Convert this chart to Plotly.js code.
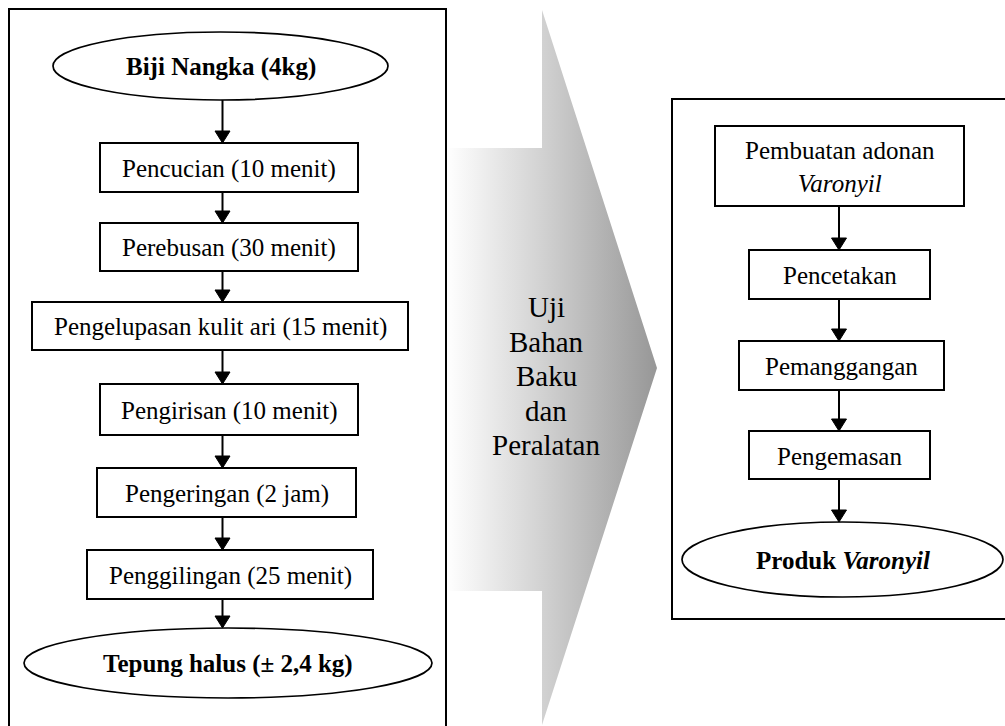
<!DOCTYPE html>
<html>
<head>
<meta charset="utf-8">
<script src="https://cdn.plot.ly/plotly-3.0.1.min.js"></script>
<style>html,body{margin:0;padding:0;background:#fff;}#chart{width:1005px;height:726px;}</style>
</head>
<body>
<div id="chart"></div>
<script>
// ---- content (text) ----
const bahanSteps = [
  "<b>Biji Nangka (4kg)</b>",
  "Pencucian (10 menit)",
  "Perebusan (30 menit)",
  "Pengelupasan kulit ari (15 menit)",
  "Pengirisan (10 menit)",
  "Pengeringan (2 jam)",
  "Penggilingan (25 menit)",
  "<b>Tepung halus (± 2,4 kg)</b>"
];
const bahanKinds = ["ellipse","box","box","box","box","box","box","ellipse"];

const produkSteps = [
  "Pembuatan adonan<br><i>Varonyil</i>",
  "Pencetakan",
  "Pemanggangan",
  "Pengemasan",
  "<b>Produk <i>Varonyil</i></b>"
];
const produkKinds = ["box","box","box","box","ellipse"];

const transitionLabel = ["Uji", "Bahan", "Baku", "dan", "Peralatan"];

// ---- layout geometry (pixels) ----
const W = 1005, H = 726;
const bahanGeom = [ // [x0, x1, y0, y1]
  [53, 388, 32, 100],
  [100, 358, 143, 192],
  [100, 358, 223, 271],
  [32, 408, 302, 350],
  [100, 358, 384, 435],
  [97, 356, 468, 517],
  [87, 373, 550, 599],
  [24, 432, 628, 698]
];
const bahanArrowX = 222.5;
const produkGeom = [
  [715, 964, 126, 206],
  [749, 930, 250, 299],
  [739, 944, 341, 390],
  [749, 930, 431, 479],
  [682, 1003, 522, 597]
];
const produkArrowX = 839;
const leftFrame = [9, 446, 9, 740];
const rightFrame = [672, 1020, 99, 619];
const bigArrow = {x0: 447, xNeck: 542, xTip: 657, yTop: 10, yBodyTop: 148, yTip: 368, yBodyBot: 591, yBot: 725};
const labelCenter = {x: 546, y: 376, lineStep: 34.5};

const FONT = "Liberation Serif, Times New Roman, Times, serif";
const shapes = [];
const annotations = [];

function frame(g) {
  shapes.push({type: "rect", layer: "below", xref: "x", yref: "y", x0: g[0], x1: g[1], y0: g[2], y1: g[3],
    line: {color: "#000", width: 2}, fillcolor: "rgba(0,0,0,0)"});
}
frame(leftFrame);
frame(rightFrame);

function column(labels, kinds, geom, ax) {
  labels.forEach((t, i) => {
    const g = geom[i];
    shapes.push({type: kinds[i] === "ellipse" ? "circle" : "rect", xref: "x", yref: "y",
      x0: g[0], x1: g[1], y0: g[2], y1: g[3],
      line: {color: "#000", width: kinds[i] === "ellipse" ? 1.7 : 2}, fillcolor: "#fff"});
    annotations.push({xref: "x", yref: "y", x: (g[0] + g[1]) / 2, y: (g[2] + g[3]) / 2 + 1,
      text: t, showarrow: false, xanchor: "center", yanchor: "middle",
      font: {family: FONT, size: 25, color: "#000"}});
    if (i < labels.length - 1) {
      const yb = g[3], yt = geom[i + 1][2];
      const ah = 12, aw = 7.5;
      shapes.push({type: "line", xref: "x", yref: "y", x0: ax, x1: ax, y0: yb, y1: yt - ah + 1,
        line: {color: "#000", width: 2}});
      shapes.push({type: "path", xref: "x", yref: "y",
        path: `M ${ax - aw} ${yt - ah} L ${ax + aw} ${yt - ah} L ${ax} ${yt} Z`,
        fillcolor: "#000", line: {color: "#000", width: 1}});
    }
  });
}
column(bahanSteps, bahanKinds, bahanGeom, bahanArrowX);
column(produkSteps, produkKinds, produkGeom, produkArrowX);

const a = bigArrow;
const arrowTrace = {
  type: "scatter", mode: "lines", hoverinfo: "skip",
  x: [a.x0, a.xNeck, a.xNeck, a.xTip, a.xNeck, a.xNeck, a.x0, a.x0],
  y: [a.yBodyTop, a.yBodyTop, a.yTop, a.yTip, a.yBot, a.yBodyBot, a.yBodyBot, a.yBodyTop],
  fill: "toself", line: {width: 0, color: "rgba(0,0,0,0)"},
  fillgradient: {type: "horizontal", start: a.x0, stop: a.xTip,
    colorscale: [[0, "#ffffff"], [0.45, "#d2d2d2"], [1, "#979797"]]}
};

transitionLabel.forEach((t, i) => {
  annotations.push({xref: "x", yref: "y", x: labelCenter.x,
    y: labelCenter.y + (i - (transitionLabel.length - 1) / 2) * labelCenter.lineStep,
    text: t, showarrow: false, xanchor: "center", yanchor: "middle",
    font: {family: FONT, size: 29, color: "#000"}});
});

const layout = {
  width: W, height: H, margin: {l: 0, r: 0, t: 0, b: 0, pad: 0},
  paper_bgcolor: "#fff", plot_bgcolor: "#fff", showlegend: false,
  xaxis: {range: [0, W], visible: false, fixedrange: true},
  yaxis: {range: [H, 0], visible: false, fixedrange: true},
  shapes: shapes, annotations: annotations
};
Plotly.newPlot("chart", [arrowTrace], layout, {staticPlot: true, displayModeBar: false});
</script>
</body>
</html>
